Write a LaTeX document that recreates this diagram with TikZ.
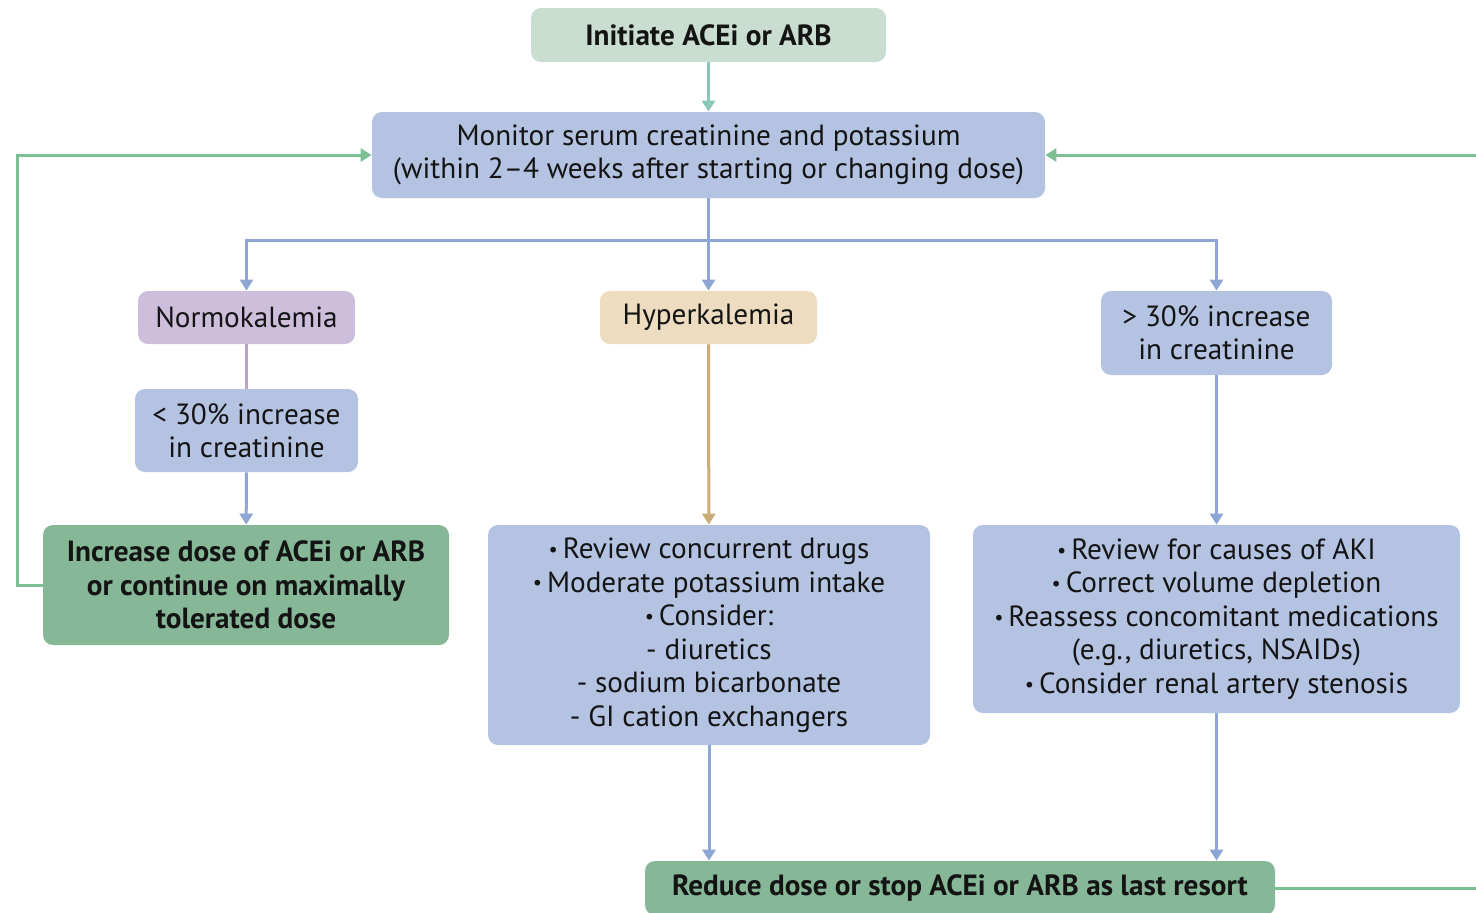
\documentclass[tikz,border=0pt]{standalone}
\usepackage{fontspec}
\setmainfont{PT Sans}
\usetikzlibrary{arrows.meta}
\definecolor{boxblue}{HTML}{B4C3E1}
\definecolor{lineblue}{HTML}{8EA6D4}
\definecolor{boxgreen}{HTML}{86B898}
\definecolor{linegreen}{HTML}{7CBF93}
\definecolor{boxinit}{HTML}{C9DED1}
\definecolor{lineteal}{HTML}{8CC6B9}
\definecolor{boxpurple}{HTML}{CDBEDB}
\definecolor{linepurple}{HTML}{B9A2C6}
\definecolor{boxtan}{HTML}{EDDCBF}
\definecolor{linetan}{HTML}{C9AD78}
\definecolor{txt}{HTML}{141414}
\newcommand{\bul}{\raisebox{0.15ex}{\scalebox{0.7}{\textbullet}}\,}
\tikzset{
  fbox/.style={rounded corners=5pt, align=center, inner sep=0pt, text=txt,
    font=\fontsize{14.6}{16.75}\selectfont},
  bfbox/.style={fbox, font=\fontsize{14.6}{16.75}\selectfont\bfseries},
  conn/.style={line width=1.5pt},
  arr/.style={conn, -{Triangle[width=6.5pt,length=5.5pt]}},
}
\begin{document}
\begin{tikzpicture}[x=0.5pt,y=-0.5pt]
\useasboundingbox (0,0) rectangle (1476,912);

\node[bfbox, fill=boxinit, minimum width=177.5pt, minimum height=27pt] (init) at (708.5,35) {Initiate ACEi or ARB};
\node[fbox, fill=boxblue, minimum width=336.5pt, minimum height=43pt] (mon) at (708.5,155) {Monitor serum creatinine and potassium\\(within 2--4 weeks after starting or changing dose)};
\node[fbox, fill=boxpurple, minimum width=108.5pt, minimum height=26.5pt] (normo) at (246.5,317.5) {Normokalemia};
\node[fbox, fill=boxtan, minimum width=108.5pt, minimum height=26.5pt] (hyper) at (708.5,317.5) {Hyperkalemia};
\node[fbox, fill=boxblue, minimum width=115.5pt, minimum height=42pt] (gt) at (1216.5,333) {> 30\% increase\\in creatinine};
\node[fbox, fill=boxblue, minimum width=111.5pt, minimum height=41.5pt] (lt) at (246.5,430.5) {< 30\% increase\\in creatinine};
\node[bfbox, fill=boxgreen, minimum width=203pt, minimum height=60pt] (inc) at (246,585) {Increase dose of ACEi or ARB\\or continue on maximally\\tolerated dose};
\node[fbox, fill=boxblue, minimum width=221pt, minimum height=110pt] (mid) at (709,635) {\bul Review concurrent drugs\\\bul Moderate potassium intake\\\bul Consider:\\- diuretics\\- sodium bicarbonate\\- GI cation exchangers};
\node[fbox, fill=boxblue, minimum width=243.5pt, minimum height=94pt] (right) at (1216.5,619) {\bul Review for causes of AKI\\\bul Correct volume depletion\\\bul Reassess concomitant medications\\(e.g., diuretics, NSAIDs)\\\bul Consider renal artery stenosis};
\node[bfbox, fill=boxgreen, minimum width=315pt, minimum height=27pt] (red) at (960,888) {Reduce dose or stop ACEi or ARB as last resort};

\coordinate (sp) at (708.5,240);
\coordinate (ll) at (17,585);
\coordinate (rl) at (1490,888);

\draw[arr, lineteal] (init) -- (mon);
\draw[conn, lineblue] (mon) -- (sp);
\draw[arr, lineblue] (sp) -| (normo);
\draw[arr, lineblue] (sp) -| (gt);
\draw[arr, lineblue] (sp) -- (hyper);
\draw[conn, linepurple] (normo) -- (lt);
\draw[arr, lineblue] (lt) -- (inc);
\draw[arr, linetan] (hyper) -- (mid);
\draw[arr, lineblue] (gt) -- (right);
\draw[arr, lineblue] (mid.south) -- (mid.south |- red.north);
\draw[arr, lineblue] (right.south) -- (right.south |- red.north);
\draw[arr, linegreen] (inc.west) -- (ll) |- (mon.west);
\draw[arr, linegreen] (red.east) -- (rl) |- (mon.east);
\end{tikzpicture}
\end{document}
